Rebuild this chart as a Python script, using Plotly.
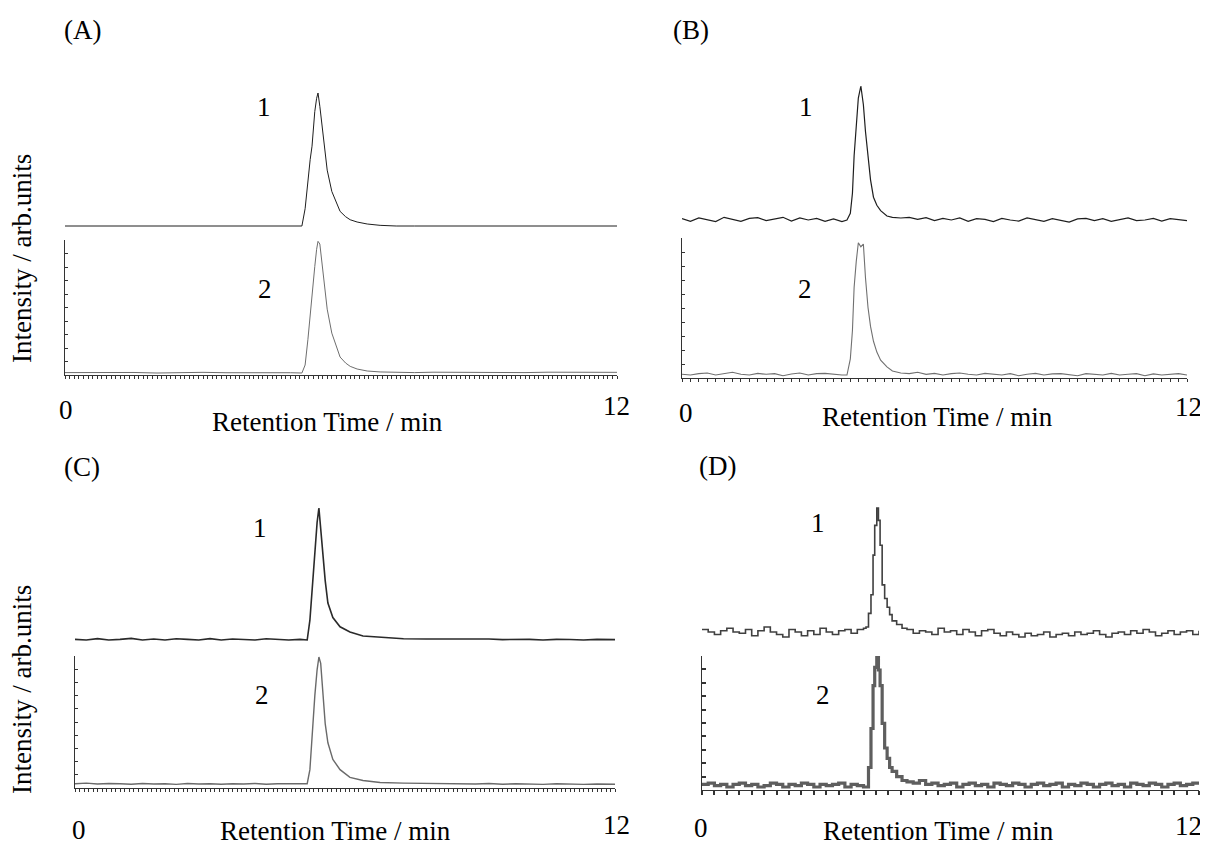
import plotly.graph_objects as go

# ---------------- data (intensities normalised to peak = 1) ----------------
T_A = [0.0, 0.5, 1.0, 1.5, 2.0, 2.5, 3.0, 3.5, 4.0, 4.5, 4.9,
       5.15, 5.22, 5.28, 5.33, 5.37, 5.43, 5.47, 5.50, 5.54, 5.59, 5.65, 5.70, 5.80, 5.90, 5.98, 6.10, 6.20, 6.35, 6.57, 6.85,
       7.2, 7.6, 8.0, 8.5, 9.0, 9.5, 10.0, 10.5, 11.0, 11.5, 12.0]
A1 = [0.0, 0.0, 0.0, 0.0, 0.0, 0.0, 0.0, 0.0, 0.0, 0.0, 0.0,
      0.0, 0.13, 0.35, 0.50, 0.60, 0.86, 0.96, 1.0, 0.90, 0.74, 0.55, 0.42, 0.26, 0.17, 0.11, 0.07, 0.047, 0.03, 0.015, 0.005,
      0.0, 0.0, 0.0, 0.0, 0.0, 0.0, 0.0, 0.0, 0.0, 0.0, 0.0]
A2 = [0.003, 0.005, 0.002, 0.004, 0.0, 0.003, 0.005, 0.002, 0.004, 0.003, 0.002,
      0.0, 0.06, 0.25, 0.45, 0.58, 0.80, 0.93, 0.99, 0.97, 0.80, 0.62, 0.48, 0.30, 0.19, 0.12, 0.075, 0.05, 0.03, 0.015, 0.008,
      0.005, 0.003, 0.006, 0.004, 0.002, 0.005, 0.003, 0.006, 0.004, 0.003, 0.005]

T_B = [0.0, 0.2, 0.4, 0.6, 0.8, 1.0, 1.2, 1.4, 1.6, 1.8, 2.0, 2.2, 2.4, 2.6, 2.8, 3.0, 3.2, 3.4, 3.6, 3.8,
       3.92, 4.0, 4.05, 4.09, 4.14, 4.19, 4.25, 4.31, 4.36, 4.42, 4.48, 4.55, 4.63, 4.72, 4.87, 5.0,
       5.2, 5.4, 5.6, 5.8, 6.0, 6.2, 6.4, 6.6, 6.8, 7.0, 7.2, 7.4, 7.6, 7.8, 8.0, 8.2, 8.4, 8.6, 8.8, 9.0,
       9.2, 9.4, 9.6, 9.8, 10.0, 10.2, 10.4, 10.6, 10.8, 11.0, 11.2, 11.4, 11.6, 11.8, 12.0]
B1 = [0.01, -0.01, 0.015, 0.0, -0.012, 0.02, 0.005, -0.01, 0.012, 0.018, -0.005, 0.01, 0.02, -0.008, 0.015, 0.0, 0.012, -0.01, 0.008, -0.012,
      0.0, 0.05, 0.20, 0.48, 0.69, 0.91, 1.0, 0.86, 0.66, 0.46, 0.30, 0.17, 0.11, 0.07, 0.03, 0.02,
      0.015, 0.02, 0.005, 0.018, -0.005, 0.012, 0.0, 0.015, -0.01, 0.01, 0.005, -0.012, 0.012, 0.0, -0.008, 0.015, 0.003, -0.01, 0.01, 0.0,
      -0.015, 0.008, 0.012, -0.005, 0.01, -0.01, 0.005, 0.015, -0.005, 0.0, 0.012, -0.008, 0.01, 0.005, -0.005]
B2 = [0.005, 0.0, 0.01, 0.015, 0.0, 0.01, 0.02, 0.005, 0.0, 0.012, 0.005, 0.01, -0.005, 0.008, 0.015, 0.0, 0.01, 0.012, 0.005, 0.0,
      0.0, 0.12, 0.33, 0.65, 0.84, 0.98, 0.95, 0.97, 0.72, 0.50, 0.36, 0.25, 0.17, 0.11, 0.06, 0.03,
      0.015, 0.01, 0.02, 0.005, 0.012, 0.0, 0.01, 0.015, 0.005, 0.0, 0.012, 0.008, 0.0, 0.01, -0.005, 0.005, 0.012, 0.0, 0.008, 0.01,
      0.0, -0.005, 0.01, 0.005, 0.0, 0.012, 0.0, 0.005, 0.01, -0.005, 0.008, 0.0, 0.005, 0.01, 0.0]

T_C = [0.0, 0.25, 0.5, 0.75, 1.0, 1.25, 1.5, 1.75, 2.0, 2.25, 2.5, 2.75, 3.0, 3.25, 3.5, 3.75, 4.0, 4.25, 4.5, 4.75, 5.0,
       5.16, 5.22, 5.27, 5.33, 5.38, 5.42, 5.46, 5.51, 5.56, 5.62, 5.73, 5.89, 6.11, 6.4, 6.78, 7.3,
       7.8, 8.3, 8.6, 8.9, 9.2, 9.5, 9.8, 10.1, 10.4, 10.7, 11.0, 11.3, 11.6, 12.0]
C1 = [0.005, 0.0, 0.01, 0.0, 0.005, 0.012, 0.0, 0.008, 0.0, 0.01, 0.005, 0.0, 0.01, 0.0, 0.008, 0.005, 0.0, 0.01, 0.005, 0.0, 0.005,
      0.0, 0.15, 0.40, 0.63, 0.89, 1.0, 0.85, 0.60, 0.45, 0.28, 0.17, 0.10, 0.06, 0.03, 0.02, 0.01,
      0.008, 0.008, 0.01, 0.005, 0.008, 0.003, 0.006, 0.005, 0.0, 0.005, 0.004, 0.0, 0.005, 0.003]
C2 = [0.01, 0.015, 0.008, 0.012, 0.01, 0.006, 0.012, 0.008, 0.01, 0.005, 0.012, 0.008, 0.01, 0.006, 0.01, 0.008, 0.012, 0.006, 0.01, 0.008, 0.01,
      0.01, 0.12, 0.40, 0.70, 0.90, 1.0, 0.95, 0.72, 0.48, 0.33, 0.20, 0.12, 0.06, 0.035, 0.02, 0.015,
      0.012, 0.012, 0.01, 0.008, 0.012, 0.006, 0.01, 0.008, 0.005, 0.01, 0.007, 0.005, 0.008, 0.006]

T_D = [0.0, 0.15, 0.3, 0.45, 0.6, 0.75, 0.9, 1.05, 1.2, 1.35, 1.5, 1.65, 1.8, 1.95, 2.1, 2.25, 2.4, 2.55, 2.7, 2.85,
       3.0, 3.15, 3.3, 3.45, 3.6, 3.75, 3.9,
       3.96, 4.02, 4.08, 4.13, 4.17, 4.22, 4.26, 4.30, 4.35, 4.41, 4.47, 4.53, 4.59, 4.7, 4.83,
       4.95, 5.1, 5.25, 5.4, 5.55, 5.7, 5.85, 6.0, 6.15, 6.3, 6.45, 6.6, 6.75, 6.9, 7.05, 7.2, 7.35, 7.5, 7.65, 7.8,
       7.95, 8.1, 8.25, 8.4, 8.55, 8.7, 8.85, 9.0, 9.15, 9.3, 9.45, 9.6, 9.75, 9.9, 10.05, 10.2, 10.35, 10.5, 10.65,
       10.8, 10.95, 11.1, 11.25, 11.4, 11.55, 11.7, 11.85, 12.0]
D1 = [0.02, 0.0, -0.02, 0.01, 0.03, 0.0, -0.01, 0.02, -0.03, 0.01, 0.04, 0.0, -0.02, -0.04, 0.02, 0.0, -0.03, 0.01, -0.02, 0.03,
      0.0, -0.02, 0.01, 0.02, -0.01, 0.02, 0.03,
      0.04, 0.15, 0.30, 0.62, 0.86, 1.0, 0.90, 0.70, 0.38, 0.27, 0.20, 0.14, 0.09, 0.06, 0.03,
      0.02, -0.01, 0.01, 0.0, -0.02, 0.03, 0.0, 0.01, -0.02, 0.02, 0.0, -0.03, 0.01, 0.02, -0.01, -0.03, 0.0, -0.02, -0.04, -0.01,
      -0.03, -0.02, 0.0, -0.04, -0.02, -0.01, -0.03, 0.0, -0.02, -0.01, 0.01, -0.02, -0.04, -0.01, 0.0, -0.02, 0.01,
      -0.01, 0.02, 0.0, -0.03, -0.01, 0.01, -0.02, 0.0, 0.01, -0.02, 0.01]
D2 = [0.02, 0.03, 0.01, 0.02, 0.0, 0.02, 0.03, 0.01, 0.02, 0.0, 0.01, 0.03, 0.02, 0.0, 0.02, 0.01, 0.03, 0.02, 0.0, 0.02,
      0.01, 0.02, 0.03, 0.0, 0.02, 0.01, 0.0,
      0.0, 0.15, 0.45, 0.78, 0.92, 1.0, 0.90, 0.78, 0.49, 0.30, 0.22, 0.15, 0.12, 0.08, 0.05,
      0.04, 0.03, 0.05, 0.02, 0.03, 0.01, 0.02, 0.03, 0.0, 0.02, 0.03, 0.01, 0.02, 0.0, 0.03, 0.02, 0.01, 0.03, 0.02, 0.0,
      0.02, 0.03, 0.01, 0.02, 0.03, 0.0, 0.02, 0.01, 0.03, 0.02, 0.0, 0.02, 0.03, 0.01, 0.02, 0.0, 0.03,
      0.02, 0.01, 0.03, 0.02, 0.0, 0.02, 0.03, 0.01, 0.02, 0.03, 0.02]

PANEL_LABELS = ["(A)", "(B)", "(C)", "(D)"]
TRACE_LABELS = ["1", "2"]
X_TITLE = "Retention Time / min"
Y_TITLE = "Intensity / arb.units"
X_TICKS = ["0", "12"]
X_RANGE = [0, 12]

# ---------------- layout geometry (page pixels of a 1208 x 845 window) ----------------
OFF = 8                      # default body margin of the html page
W, H = 1200, 837             # figure size so that figure + margin fills the window
FONT = "Liberation Serif, Times New Roman, serif"
FS = 27

def px(x):
    return (x - OFF) / W

def py(y):
    return 1 - (y - OFF) / H

panels = [
    dict(t=T_A, s1=A1, s2=A2, xd=(65, 617),
         top=dict(dom=(80, 238), base=226, peak=93),
         bot=dict(dom=(240, 375), base=373, peak=240),
         c1="#1e1e1e", w1=1.0, c2="#6e6e6e", w2=1.0, dx=0.1, shape="linear", tw=1, tl=3),
    dict(t=T_B, s1=B1, s2=B2, xd=(682, 1187),
         top=dict(dom=(75, 236), base=220, peak=86),
         bot=dict(dom=(238, 378), base=375, peak=240),
         c1="#1e1e1e", w1=1.2, c2="#707070", w2=1.1, dx=0.2, shape="linear", tw=1, tl=3),
    dict(t=T_C, s1=C1, s2=C2, xd=(75, 615),
         top=dict(dom=(495, 652), base=640, peak=508),
         bot=dict(dom=(656, 788), base=785, peak=657),
         c1="#2a2a2a", w1=1.6, c2="#6a6a6a", w2=1.4, dx=0.1, shape="linear", tw=1, tl=3),
    dict(t=T_D, s1=D1, s2=D2, xd=(702, 1199),
         top=dict(dom=(495, 650), base=632, peak=508),
         bot=dict(dom=(656, 790), base=787, peak=657),
         c1="#404040", w1=1.6, c2="#5e5e5e", w2=3.2, dx=0.3, shape="hv", tw=1.5, tl=4),
]

fig = go.Figure()
layout = {}
idx = 0
for p in panels:
    for which, series, color, width in (("top", p["s1"], p["c1"], p["w1"]), ("bot", p["s2"], p["c2"], p["w2"])):
        idx += 1
        g = p[which]
        top_px, bot_px = g["dom"]
        span = g["base"] - g["peak"]
        lo = (g["base"] - bot_px) / span
        hi = (g["base"] - top_px) / span
        xa = "xaxis" if idx == 1 else f"xaxis{idx}"
        ya = "yaxis" if idx == 1 else f"yaxis{idx}"
        fig.add_trace(go.Scatter(
            x=p["t"], y=series, mode="lines",
            line=dict(color=color, width=width, shape=p["shape"]),
            xaxis=f"x{idx}" if idx > 1 else "x", yaxis=f"y{idx}" if idx > 1 else "y",
            showlegend=False, hoverinfo="skip"))
        show = which == "bot"
        layout[xa] = dict(domain=[px(p["xd"][0]), px(p["xd"][1])], range=X_RANGE,
                          anchor=f"y{idx}" if idx > 1 else "y",
                          showgrid=False, zeroline=False, showticklabels=False,
                          showline=show, linecolor="#333333", linewidth=1,
                          ticks="outside" if show else "", tick0=0, dtick=p["dx"],
                          ticklen=p["tl"], tickwidth=p["tw"], tickcolor="#333333")
        layout[ya] = dict(domain=[py(bot_px), py(top_px)], range=[lo, hi],
                          anchor=f"x{idx}" if idx > 1 else "x",
                          showgrid=False, zeroline=False, showticklabels=False,
                          showline=show, linecolor="#333333", linewidth=1,
                          ticks="inside" if show else "", tick0=lo, dtick=(hi - lo) / 10,
                          ticklen=p["tl"], tickwidth=p["tw"], tickcolor="#333333")

ann = []

def text(x, y, s, angle=0):
    ann.append(dict(x=px(x), y=py(y), xref="paper", yref="paper", text=s, showarrow=False,
                    xanchor="center", yanchor="middle", textangle=angle,
                    font=dict(family=FONT, size=FS, color="#000000")))

# panel letters
text(82, 30, PANEL_LABELS[0]); text(691, 30, PANEL_LABELS[1])
text(82, 467, PANEL_LABELS[2]); text(717, 466, PANEL_LABELS[3])
# trace numbers
text(264, 107, TRACE_LABELS[0]); text(265, 289, TRACE_LABELS[1])
text(806, 107, TRACE_LABELS[0]); text(805, 289, TRACE_LABELS[1])
text(260, 528, TRACE_LABELS[0]); text(262, 695, TRACE_LABELS[1])
text(818, 523, TRACE_LABELS[0]); text(823, 695, TRACE_LABELS[1])
# x tick labels
text(66, 410, X_TICKS[0]); text(616, 406, X_TICKS[1])
text(686, 413, X_TICKS[0]); text(1188, 407, X_TICKS[1])
text(79, 830, X_TICKS[0]); text(616, 825, X_TICKS[1])
text(701, 828, X_TICKS[0]); text(1188, 826, X_TICKS[1])
# x titles
text(327, 422, X_TITLE); text(937, 417, X_TITLE)
text(335, 831, X_TITLE); text(938, 831, X_TITLE)
# y titles
text(22, 259, Y_TITLE, -90); text(22, 690, Y_TITLE, -90)

fig.update_layout(width=W, height=H, margin=dict(l=0, r=0, t=0, b=0),
                  paper_bgcolor="white", plot_bgcolor="white",
                  annotations=ann, **layout)

fig.write_html("out.html")
